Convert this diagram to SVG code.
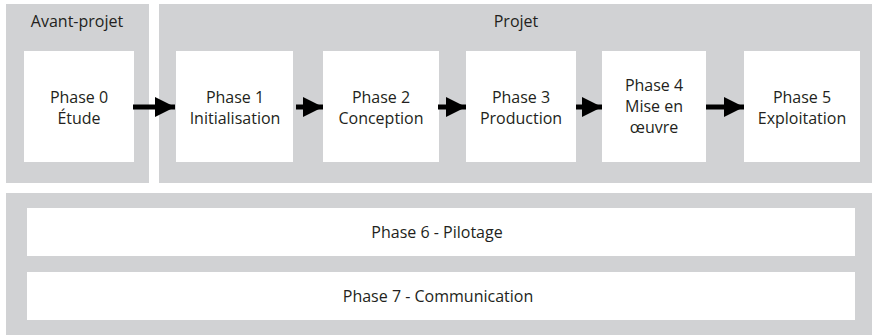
<svg xmlns="http://www.w3.org/2000/svg" width="872" height="335" viewBox="0 0 872 335">
<defs>
<style>
.panel{fill:#d1d2d4}
.box{fill:#ffffff}
text{font-family:"Open Sans","Noto Sans",sans-serif;font-size:16px;fill:#231f20;text-anchor:middle}
.arrow{stroke:#000;stroke-width:5;fill:none}
</style>
<marker id="ah" markerWidth="20" markerHeight="20" refX="20" refY="10" markerUnits="userSpaceOnUse" orient="auto">
<path d="M0,0 L20,10 L0,20 Z" fill="#000"/>
</marker>
</defs>
<rect width="872" height="335" fill="#fff"/>
<g id="avant-projet">
<rect class="panel" x="6" y="4" width="143" height="179"/>
<text x="77" y="27">Avant-projet</text>
</g>
<g id="projet">
<rect class="panel" x="159" y="4" width="713" height="179"/>
<text x="516" y="27">Projet</text>
</g>
<g id="support">
<rect class="panel" x="6" y="193" width="866" height="142"/>
</g>
<g id="phase0">
<rect class="box" x="24" y="51" width="110" height="111"/>
<text x="79" y="103">Phase 0</text>
<text x="79" y="124">Étude</text>
</g>
<g id="phase1">
<rect class="box" x="176" y="51" width="117" height="111"/>
<text x="235" y="103">Phase 1</text>
<text x="235" y="124">Initialisation</text>
</g>
<g id="phase2">
<rect class="box" x="323" y="51" width="116" height="111"/>
<text x="381" y="103">Phase 2</text>
<text x="381" y="124">Conception</text>
</g>
<g id="phase3">
<rect class="box" x="466" y="51" width="110" height="111"/>
<text x="521" y="103">Phase 3</text>
<text x="521" y="124">Production</text>
</g>
<g id="phase4">
<rect class="box" x="602" y="51" width="104" height="111"/>
<text x="654" y="91">Phase 4</text>
<text x="654" y="112">Mise en</text>
<text x="654" y="133">œuvre</text>
</g>
<g id="phase5">
<rect class="box" x="744" y="51" width="116" height="111"/>
<text x="802" y="103">Phase 5</text>
<text x="802" y="124">Exploitation</text>
</g>
<g id="phase6">
<rect class="box" x="27" y="208" width="828" height="48"/>
<text x="437" y="238">Phase 6 - Pilotage</text>
</g>
<g id="phase7">
<rect class="box" x="27" y="272" width="828" height="48"/>
<text x="438" y="302">Phase 7 - Communication</text>
</g>
<g id="connectors">
<line class="arrow" x1="133" y1="107" x2="175" y2="107" marker-end="url(#ah)"/>
<line class="arrow" x1="296" y1="107" x2="323" y2="107" marker-end="url(#ah)"/>
<line class="arrow" x1="438" y1="107" x2="466" y2="107" marker-end="url(#ah)"/>
<line class="arrow" x1="576" y1="107" x2="602" y2="107" marker-end="url(#ah)"/>
<line class="arrow" x1="706" y1="107" x2="744" y2="107" marker-end="url(#ah)"/>
</g>
</svg>
